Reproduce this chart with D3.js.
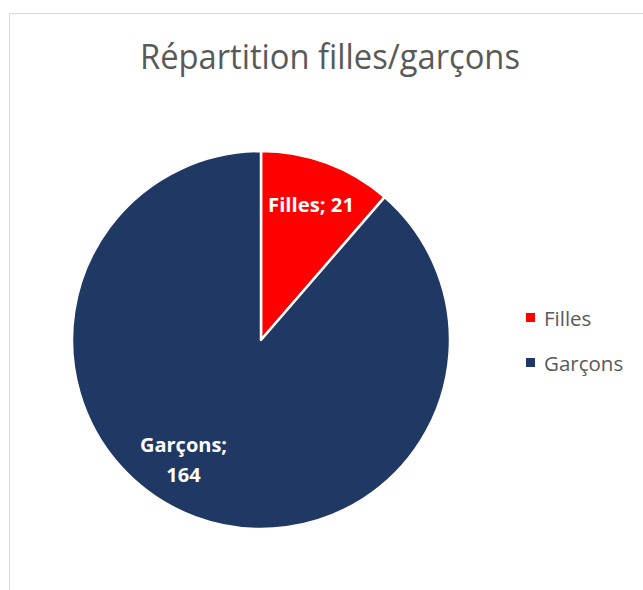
<!DOCTYPE html>
<html><head><meta charset="utf-8">
<script src="https://cdn.jsdelivr.net/npm/d3@7"></script>
<style>html,body{margin:0;padding:0;background:#fff;}svg{display:block;}</style>
</head><body>
<script>
const categories = ["Filles", "Garçons"];
const values = [21, 164];
const colors = ["#FF0000", "#203864"];
const titleText = "Répartition filles/garçons";

const W = 643, H = 590;
const svg = d3.select("body").append("svg").attr("width", W).attr("height", H);
svg.append("rect").attr("width", W).attr("height", H).attr("fill", "#fff");
// chart frame
svg.append("path").attr("d", `M9.5,${H} V13.5 H${W}`).attr("fill", "none").attr("stroke", "#d9d9d9").attr("stroke-width", 1);

svg.append("text").attr("x", 330).attr("y", 69).attr("text-anchor", "middle")
  .attr("font-family", "Open Sans, sans-serif").attr("font-size", 34).attr("fill", "#595959")
  .attr("textLength", 380).attr("lengthAdjust", "spacingAndGlyphs")
  .text(titleText);

const cx = 261, cy = 340, r = 189;
const data = categories.map((c, i) => ({cat: c, value: values[i], color: colors[i]}));
const pie = d3.pie().sort(null).value(d => d.value);
const arc = d3.arc().innerRadius(0).outerRadius(r);
const g = svg.append("g").attr("transform", `translate(${cx},${cy})`);
const arcs = pie(data);
g.selectAll("path").data(arcs).join("path")
  .attr("d", arc).attr("fill", d => d.data.color)
  .attr("stroke", "#fff").attr("stroke-width", 2.5).attr("stroke-linejoin", "round");

// labels
const labelFont = "Open Sans, sans-serif";
g.append("text").attr("x", 50).attr("y", -128).attr("text-anchor", "middle")
  .attr("font-family", labelFont).attr("font-weight", "bold").attr("font-size", 20).attr("fill", "#fff")
  .attr("textLength", 86).attr("lengthAdjust", "spacingAndGlyphs")
  .text(`${categories[0]}; ${values[0]}`);
const lab1 = g.append("text").attr("text-anchor", "middle")
  .attr("font-family", labelFont).attr("font-weight", "bold").attr("font-size", 20).attr("fill", "#fff");
lab1.append("tspan").attr("x", -77.5).attr("y", 112).text(`${categories[1]};`);
lab1.append("tspan").attr("x", -77.5).attr("y", 142).text(`${values[1]}`);

// legend
const leg = svg.append("g");
categories.forEach((c, i) => {
  const y = 313 + i * 45;
  leg.append("rect").attr("x", 526).attr("y", y).attr("width", 9).attr("height", 9).attr("fill", colors[i]);
  leg.append("text").attr("x", 544).attr("y", y + 13).attr("font-family", "Open Sans, sans-serif")
    .attr("font-size", 20.5).attr("fill", "#595959").text(c);
});
</script>
</body></html>
